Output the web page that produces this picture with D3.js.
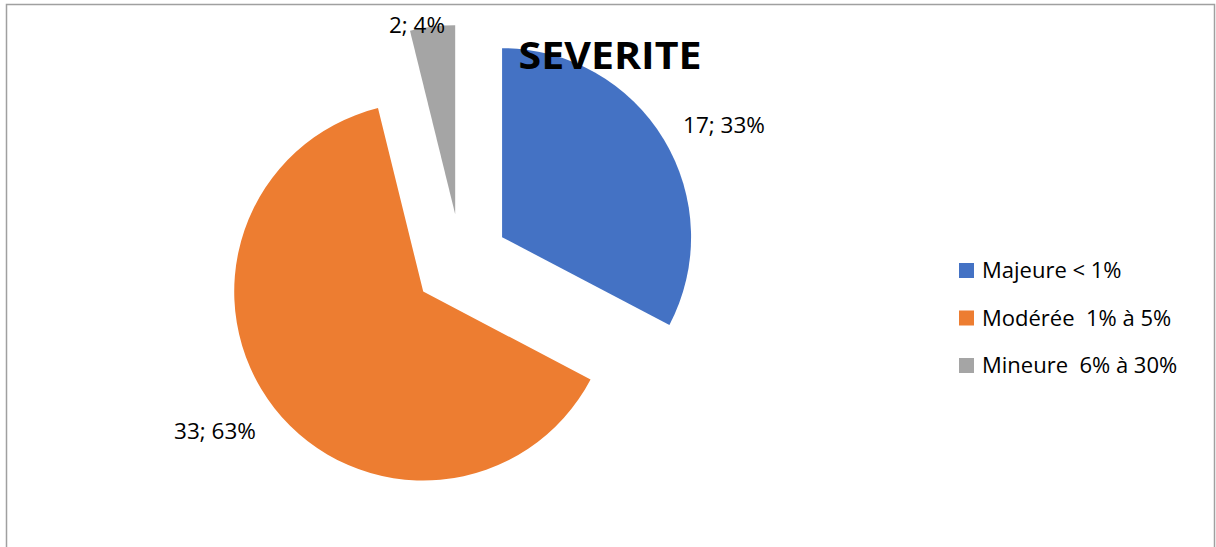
<!DOCTYPE html>
<html><head><meta charset="utf-8">
<script src="https://cdn.jsdelivr.net/npm/d3@7"></script>
<style>
html,body{margin:0;padding:0;background:#fff;}
svg{display:block;}
text{font-family:"Open Sans","Liberation Sans",sans-serif;white-space:pre;}
</style></head>
<body><svg id="c" width="1216" height="547"></svg>
<script>
const categories = ["Majeure < 1%", "Modérée  1% à 5%", "Mineure  6% à 30%"];
const values = [17, 33, 2];
const percents = ["33%", "63%", "4%"];
const colors = ["#4472C4", "#ED7D31", "#A5A5A5"];
const title = "SEVERITE";

const svg = d3.select("#c");
// frame
svg.append("rect").attr("x", 6.5).attr("y", 4.5).attr("width", 1208).attr("height", 560)
  .attr("fill", "none").attr("stroke", "#a0a0a0").attr("stroke-width", 1.5);

const cx = 461, cy = 262, R = 189, explode = 48;
const pie = d3.pie().sort(null).value(d => d)(values);
const arc = d3.arc().innerRadius(0).outerRadius(R);
const g = svg.append("g").attr("transform", `translate(${cx},${cy})`);
g.selectAll("path").data(pie).join("path")
  .attr("d", arc)
  .attr("fill", (d, i) => colors[i])
  .attr("transform", d => {
    const a = (d.startAngle + d.endAngle) / 2;
    return `translate(${explode * Math.sin(a)},${-explode * Math.cos(a)})`;
  });

// data labels
const labelPos = [[724, 133], [215, 439], [417, 33]];
svg.selectAll("text.lbl").data(pie).join("text").attr("class", "lbl")
  .attr("x", (d, i) => labelPos[i][0]).attr("y", (d, i) => labelPos[i][1])
  .attr("text-anchor", "middle").attr("font-size", 22.5).attr("fill", "#000")
  .text((d, i) => `${values[i]}; ${percents[i]}`);

// title
svg.append("text").attr("x", 610).attr("y", 69).attr("text-anchor", "middle")
  .attr("font-size", 37).attr("font-weight", "bold").attr("fill", "#000")
  .attr("textLength", 183).attr("lengthAdjust", "spacingAndGlyphs")
  .text(title);

// legend
const lg = svg.append("g");
categories.forEach((c, i) => {
  const base = 278 + i * 47.5;
  lg.append("rect").attr("x", 959).attr("y", base - 15).attr("width", 15).attr("height", 15).attr("fill", colors[i]);
  lg.append("text").attr("x", 982).attr("y", base).attr("font-size", 22).attr("fill", "#000")
    .attr("xml:space", "preserve").text(c);
});
</script></body></html>
